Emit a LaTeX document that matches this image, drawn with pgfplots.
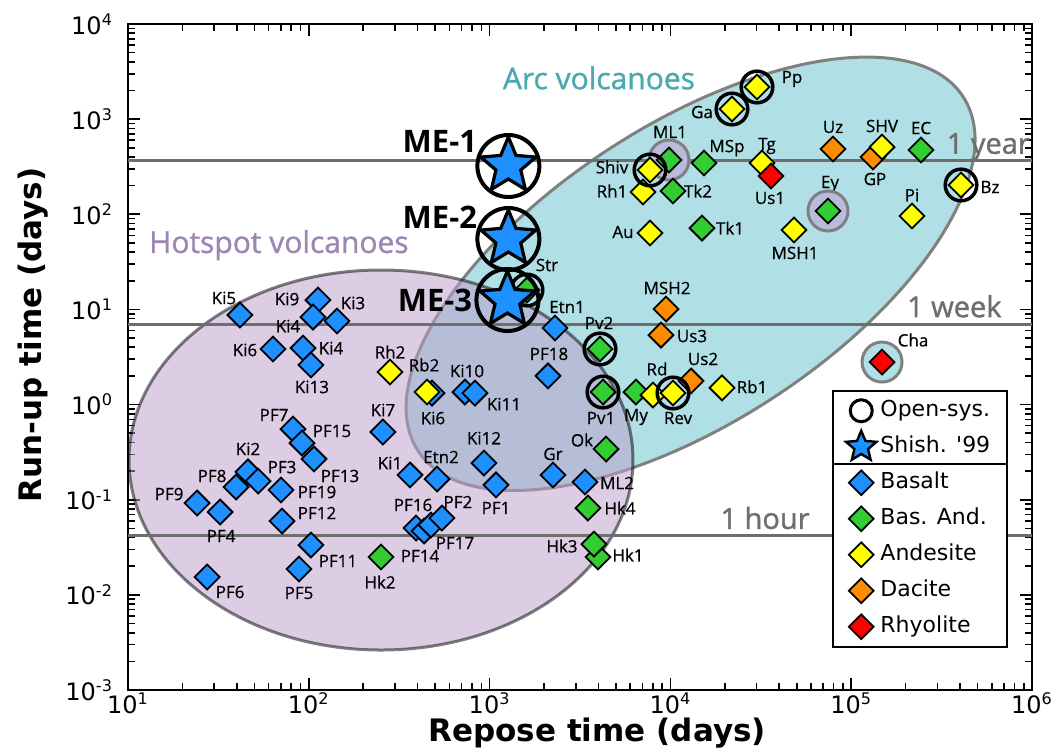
\documentclass[border=0pt]{standalone}
\usepackage{fontspec}
\setmainfont{Open Sans}
\newfontfamily\dejavu{DejaVu Sans}
\newfontfamily\semib{Open Sans}[FakeBold=1.2]
\newfontfamily\lblfam{Open Sans}[FakeBold=0.6]
\usepackage{pgfplots}
\pgfplotsset{compat=1.18}

\definecolor{basalt}{RGB}{30,144,255}
\definecolor{basand}{RGB}{50,205,50}
\definecolor{andes}{RGB}{255,255,0}
\definecolor{dacite}{RGB}{255,140,0}
\definecolor{rhyo}{RGB}{255,0,0}
\definecolor{arcfill}{RGB}{176,224,230}
\definecolor{hotfill}{RGB}{188,159,203}
\definecolor{ringfill}{RGB}{184,188,218}
\definecolor{ellgray}{RGB}{128,128,128}
\definecolor{refgray}{RGB}{110,110,110}
\definecolor{arctext}{RGB}{74,170,176}
\definecolor{hottext}{RGB}{158,134,180}

\newcommand\tickfont{\dejavu\fontsize{12}{14}\selectfont}
\newcommand\axfont{\dejavu\bfseries\fontsize{15.5}{18}\selectfont}
\newcommand\legfont{\dejavu\fontsize{11}{13}\selectfont}
\newcommand\lblfont{\lblfam\fontsize{8.5}{10}\selectfont}
\newcommand\ttlfont{\semib\fontsize{15}{18}\selectfont}
\newcommand\reffont{\semib\fontsize{14.5}{17}\selectfont}

% filled five-pointed star
\pgfdeclareplotmark{fivestar}{%
  \pgfpathmoveto{\pgfpointpolar{90}{\pgfplotmarksize}}%
  \pgfpathlineto{\pgfpointpolar{126}{0.45\pgfplotmarksize}}%
  \pgfpathlineto{\pgfpointpolar{162}{\pgfplotmarksize}}%
  \pgfpathlineto{\pgfpointpolar{198}{0.45\pgfplotmarksize}}%
  \pgfpathlineto{\pgfpointpolar{234}{\pgfplotmarksize}}%
  \pgfpathlineto{\pgfpointpolar{270}{0.45\pgfplotmarksize}}%
  \pgfpathlineto{\pgfpointpolar{306}{\pgfplotmarksize}}%
  \pgfpathlineto{\pgfpointpolar{342}{0.45\pgfplotmarksize}}%
  \pgfpathlineto{\pgfpointpolar{18}{\pgfplotmarksize}}%
  \pgfpathlineto{\pgfpointpolar{54}{0.45\pgfplotmarksize}}%
  \pgfpathclose
  \pgfusepathqfillstroke
}

% point label: data point, offset right/down (in half points), text
\newcommand{\lab}[5]{\node[font=\lblfont, inner sep=0pt] at ([shift={({0.5pt*(#3)},{-0.5pt*(#4)})}]axis cs:#1,#2) {#5};}

\pgfplotsset{
  diam/.style={only marks, mark=square*, mark size=4.4pt,
    mark options={rotate=45, draw=black, line width=0.9pt, fill=#1}, forget plot},
  legdiam/.style={only marks, mark=square*, mark size=4.4pt,
    mark options={rotate=45, draw=black, line width=0.9pt, fill=#1}},
  opencirc/.style={only marks, mark=o, mark size=7.9pt,
    mark options={draw=black, line width=1.75pt}, forget plot},
  ring/.style={only marks, mark=*, mark size=10pt,
    mark options={draw=ellgray, line width=1.5pt, fill=#1}, forget plot},
}

\begin{document}
\begin{tikzpicture}
\begin{axis}[
  scale only axis, width=452pt, height=333pt,
  xmode=log, ymode=log,
  xmin=10, xmax=1e6, ymin=1e-3, ymax=1e4,
  clip=false,
  axis line style={line width=1.2pt},
  every tick/.style={black, line width=0.8pt},
  major tick length=6pt, minor tick length=3.5pt,
  tick align=inside, xtick pos=both, ytick pos=both,
  xtick={1e1,1e2,1e3,1e4,1e5,1e6},
  xticklabels={10\textsuperscript{1},10\textsuperscript{2},10\textsuperscript{3},10\textsuperscript{4},10\textsuperscript{5},10\textsuperscript{6}},
  minor xtick={2e1,3e1,4e1,5e1,6e1,7e1,8e1,9e1,2e2,3e2,4e2,5e2,6e2,7e2,8e2,9e2,2e3,3e3,4e3,5e3,6e3,7e3,8e3,9e3,2e4,3e4,4e4,5e4,6e4,7e4,8e4,9e4,2e5,3e5,4e5,5e5,6e5,7e5,8e5,9e5},
  ytick={1e-3,1e-2,1e-1,1e0,1e1,1e2,1e3,1e4},
  yticklabels={10\textsuperscript{-3},10\textsuperscript{-2},10\textsuperscript{-1},10\textsuperscript{0},10\textsuperscript{1},10\textsuperscript{2},10\textsuperscript{3},10\textsuperscript{4}},
  minor ytick={2e-3,3e-3,4e-3,5e-3,6e-3,7e-3,8e-3,9e-3,2e-2,3e-2,4e-2,5e-2,6e-2,7e-2,8e-2,9e-2,2e-1,3e-1,4e-1,5e-1,6e-1,7e-1,8e-1,9e-1,2,3,4,5,6,7,8,9,20,30,40,50,60,70,80,90,200,300,400,500,600,700,800,900,2e3,3e3,4e3,5e3,6e3,7e3,8e3,9e3},
  ticklabel style={font=\tickfont},
  xticklabel style={yshift=2pt},
  yticklabel style={xshift=-4pt},
  xlabel={Repose time (days)},
  ylabel={Run-up time (days)},
  xlabel style={font=\axfont, inner sep=0pt, at={(axis description cs:0.519,-0.064)}, anchor=center},
  ylabel style={font=\axfont, at={(axis description cs:-0.105,0.533)}, anchor=center},
  legend style={name=leg, at={(rel axis cs:0.779,0.4505)}, anchor=north west,
    draw=black, line width=0.8pt, fill=white, font=\legfont,
    inner xsep=6.5pt, inner ysep=1pt, row sep=0pt,
    nodes={text height=8.5pt, text depth=2.5pt, inner ysep=3.5pt, inner xsep=2pt}},
  legend cell align=left,
]
% legend
\addlegendimage{only marks, mark=o, mark size=5.5pt, mark options={draw=black, line width=1.5pt}}
\addlegendentry{Open-sys.}
\addlegendimage{only marks, mark=fivestar, mark size=8pt, mark options={fill=basalt, draw=black, line width=1.2pt}}
\addlegendentry{Shish. '99}
\addlegendimage{legdiam=basalt}\addlegendentry{Basalt}
\addlegendimage{legdiam=basand}\addlegendentry{Bas. And.}
\addlegendimage{legdiam=andes}\addlegendentry{Andesite}
\addlegendimage{legdiam=dacite}\addlegendentry{Dacite}
\addlegendimage{legdiam=rhyo}\addlegendentry{Rhyolite}

% volcano-type fields
\draw[fill=arcfill, draw=ellgray, line width=1.5pt, rotate around={33:(axis cs:12930,23.7)}]
  (axis cs:12930,23.7) ellipse [x radius=162.5pt, y radius=74.5pt];
\draw[fill=hotfill, fill opacity=0.52, draw=black, draw opacity=0.5, line width=1.5pt]
  (axis cs:250.8,0.2614) ellipse [x radius=126pt, y radius=95pt];

\node[font=\ttlfont, text=arctext] at (rel axis cs:0.521,0.919) {Arc volcanoes};
\node[font=\ttlfont, text=hottext] at (rel axis cs:0.167,0.668) {Hotspot volcanoes};

% reference durations
\draw[refgray, line width=1.5pt] (axis cs:10,365) -- (axis cs:1e6,365);
\draw[refgray, line width=1.5pt] (axis cs:10,7) -- (axis cs:1e6,7);
\draw[refgray, line width=1.5pt] (axis cs:10,0.041667) -- (axis cs:1e6,0.041667);
\node[font=\reffont, text=refgray, anchor=base east, inner sep=0pt, yshift=3.5pt] at (axis cs:977000,365) {1 year};
\node[font=\reffont, text=refgray, anchor=base east, inner sep=0pt, yshift=3.5pt] at (axis cs:682000,7) {1 week};
\node[font=\reffont, text=refgray, anchor=base east, inner sep=0pt, yshift=3.5pt] at (axis cs:59160,0.041667) {1 hour};

% shaded rings
\addplot[ring=ringfill] coordinates {(9824,372) (74420,108.3)};
\addplot[ring=arcfill] coordinates {(148100,2.80)};

% Basalt
\addplot[diam=basalt] coordinates {
 (41.6,8.74) (112.4,12.56) (105.5,8.32) (143.2,7.56) (63.4,3.84) (92.9,3.93)
 (102.8,2.61) (480,1.32) (731,1.355) (830,1.32) (257,0.515) (363,0.182)
 (512,0.165) (931,0.243) (1085,0.143) (392,0.0504) (434,0.0469) (474,0.0542)
 (545,0.0642) (81.8,0.553) (91.7,0.394) (106.9,0.268) (46.1,0.196) (52.4,0.157)
 (39.6,0.136) (70.2,0.1265) (24.1,0.0923) (32.3,0.0743) (71.1,0.0597)
 (102.8,0.0334) (88.3,0.0187) (27.4,0.0154) (2300,6.38) (2104,2.00)
 (2242,0.182) (3371,0.1535)
};
% Basaltic andesite
\addplot[diam=basand] coordinates {
 (250.8,0.0250) (1610,16.0) (4080,3.84) (4239,1.355) (6451,1.355) (4404,0.341)
 (3501,0.0818) (3978,0.0250) (3779,0.0342) (9824,372) (10338,175.7)
 (15341,345.9) (14955,71.7) (74420,108.3) (243300,473.9)
};
% Dacite
\addplot[diam=dacite] coordinates {
 (9457,10.1) (8872,5.38) (13004,1.77) (79330,485.5) (132000,400)
};
% Andesite
\addplot[diam=andes] coordinates {
 (281.3,2.20) (450.6,1.355) (8010,1.26) (10338,1.323) (19296,1.50)
 (7054,171.5) (7714,292.1) (7714,63.6) (21912,1278) (30130,2177)
 (32110,345.9) (48270,68.4) (148100,509.5) (216900,95.9) (404900,203.2)
};
% Rhyolite
\addplot[diam=rhyo] coordinates {(36010,252.6) (148100,2.80)};

% open-system eruptions
\addplot[opencirc] coordinates {
 (30130,2177) (21912,1278) (7714,292.1) (404900,203.2) (4080,3.84)
 (4239,1.355) (10338,1.323) (1610,16.0)
};

% Shishido 1999 estimates
\addplot[only marks, mark=o, mark size=15.5pt, mark options={draw=black, line width=2pt}, forget plot]
  coordinates {(1270,321.8) (1270,55.0) (1255,12.56)};
\addplot[only marks, mark=fivestar, mark size=14.5pt, mark options={fill=basalt, draw=black, line width=1.6pt}, forget plot]
  coordinates {(1270,321.8) (1270,55.0) (1255,12.56)};

\node[font=\bfseries\fontsize{15.5}{18}\selectfont] at (rel axis cs:0.345,0.8236) {ME-1};
\node[font=\bfseries\fontsize{15.5}{18}\selectfont] at (rel axis cs:0.345,0.710) {ME-2};
\node[font=\bfseries\fontsize{15.5}{18}\selectfont] at (rel axis cs:0.3396,0.5856) {ME-3};

% labels: basalt
\lab{41.6}{8.74}{-16}{-17}{Ki5}
\lab{112.4}{12.56}{-31}{-1}{Ki9}
\lab{105.5}{8.32}{-25}{9}{Ki4}
\lab{143.2}{7.56}{16}{-18}{Ki3}
\lab{63.4}{3.84}{-28}{1}{Ki6}
\lab{92.9}{3.93}{28}{0}{Ki4}
\lab{102.8}{2.61}{1}{22}{Ki13}
\lab{480}{1.32}{1}{25}{Ki6}
\lab{731}{1.355}{2}{-21}{Ki10}
\lab{830}{1.32}{29}{11}{Ki11}
\lab{257}{0.515}{0}{-22}{Ki7}
\lab{363}{0.182}{-20}{-12}{Ki1}
\lab{512}{0.165}{4}{-22}{Etn2}
\lab{931}{0.243}{0}{-25}{Ki12}
\lab{1085}{0.143}{0}{23}{PF1}
\lab{392}{0.0504}{-3}{-23}{PF16}
\lab{545}{0.0642}{16}{-16}{PF2}
\lab{474}{0.0542}{24}{18}{PF17}
\lab{434}{0.0469}{-4}{25}{PF14}
\lab{81.8}{0.553}{-19}{-14}{PF7}
\lab{91.7}{0.394}{30}{-12}{PF15}
\lab{106.9}{0.268}{26}{17}{PF13}
\lab{46.1}{0.196}{0}{-23}{Ki2}
\lab{52.4}{0.157}{24}{-14}{PF3}
\lab{39.6}{0.136}{-24}{-11}{PF8}
\lab{70.2}{0.1265}{36}{2}{PF19}
\lab{24.1}{0.0923}{-28}{-9}{PF9}
\lab{32.3}{0.0743}{1}{24}{PF4}
\lab{71.1}{0.0597}{35}{-8}{PF12}
\lab{102.8}{0.0334}{27}{16}{PF11}
\lab{88.3}{0.0187}{0}{24}{PF5}
\lab{27.4}{0.0154}{23}{15}{PF6}
\lab{2300}{6.38}{12}{-21}{Etn1}
\lab{2104}{2.00}{1}{-22}{PF18}
\lab{2242}{0.182}{0}{-21}{Gr}
\lab{3371}{0.1535}{32}{1}{ML2}
% labels: basaltic andesite
\lab{250.8}{0.0250}{-1}{25}{Hk2}
\lab{1610}{16.0}{20}{-25}{Str}
\lab{4080}{3.84}{-1}{-26}{Pv2}
\lab{4239}{1.355}{-2}{26}{Pv1}
\lab{6451}{1.355}{0}{25}{My}
\lab{4404}{0.341}{-24}{-9}{Ok}
\lab{3501}{0.0818}{32}{0}{Hk4}
\lab{3978}{0.0250}{30}{-2}{Hk1}
\lab{3779}{0.0342}{-32}{2}{Hk3}
\lab{9824}{372}{1}{-28}{ML1}
\lab{10338}{175.7}{25}{0}{Tk2}
\lab{15341}{345.9}{23}{-15}{MSp}
\lab{14955}{71.7}{28}{0}{Tk1}
\lab{74420}{108.3}{2}{-27}{Ey}
\lab{243300}{473.9}{0}{-22}{EC}
% labels: dacite
\lab{9457}{10.1}{1}{-21}{MSH2}
\lab{8872}{5.38}{31}{1}{Us3}
\lab{13004}{1.77}{12}{-22}{Us2}
\lab{79330}{485.5}{0}{-22}{Uz}
\lab{132000}{400}{2}{22}{GP}
% labels: andesite
\lab{281.3}{2.20}{0}{-20}{Rh2}
\lab{450.6}{1.355}{-3}{-27}{Rb2}
\lab{8010}{1.26}{4}{-26}{Rd}
\lab{10338}{1.323}{5}{25}{Rev}
\lab{19296}{1.50}{30}{-1}{Rb1}
\lab{7714}{292.1}{-38}{-3}{Shiv}
\lab{7054}{171.5}{-31}{-1}{Rh1}
\lab{7714}{63.6}{-27}{-1}{Au}
\lab{21912}{1278}{-30}{3}{Ga}
\lab{30130}{2177}{35}{-8}{Pp}
\lab{32110}{345.9}{5}{-17}{Tg}
\lab{48270}{68.4}{1}{23}{MSH1}
\lab{148100}{509.5}{0}{-21}{SHV}
\lab{216900}{95.9}{0}{-21}{Pi}
\lab{404900}{203.2}{29}{2}{Bz}
% labels: rhyolite
\lab{36010}{252.6}{-1}{22}{Us1}
\lab{148100}{2.80}{31}{-22}{Cha}
\end{axis}
\draw[line width=0.8pt] ([yshift=-37pt]leg.north west) -- ([yshift=-37pt]leg.north east);
\pgfresetboundingbox
\useasboundingbox (-64pt,-30.5pt) rectangle (467pt,345pt);
\end{tikzpicture}
\end{document}
